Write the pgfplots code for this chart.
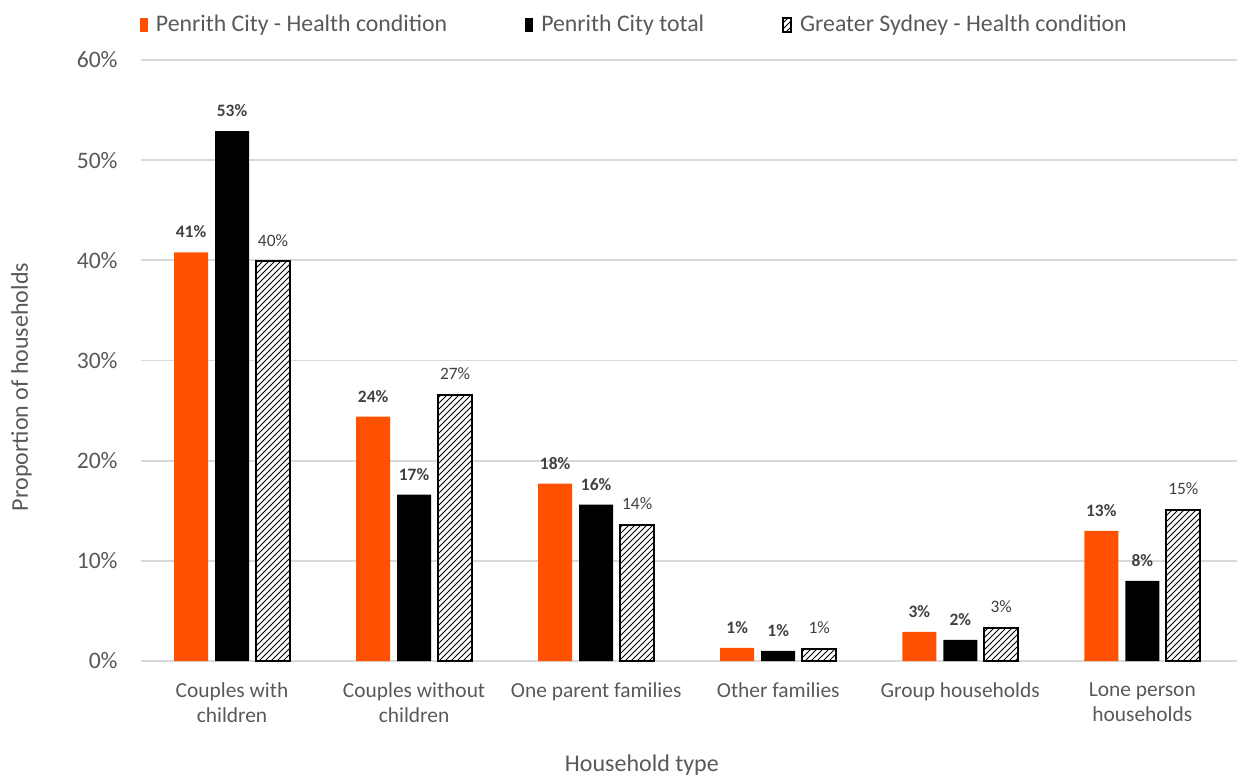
\documentclass[border=0pt]{standalone}
\usepackage{pgfplots}
\pgfplotsset{compat=1.18}
\usepackage{fontspec}
\setmainfont{Carlito}
\usetikzlibrary{patterns}
\definecolor{pOrange}{HTML}{FF5100}
\definecolor{tGray}{HTML}{595959}
\definecolor{lGray}{HTML}{404040}
\definecolor{gGray}{HTML}{D9D9D9}
\begin{document}
\begin{tikzpicture}
\path[use as bounding box] (-70.5pt,-57.5pt) rectangle (548pt,330.5pt);
\begin{axis}[
  at={(0pt,0pt)}, anchor=south west,
  scale only axis, width=548pt, height=300.5pt,
  ymin=0, ymax=60, xmin=-0.5, xmax=5.52,
  ybar=3.5pt, bar width=17pt,
  axis line style={draw=none},
  major tick length=0pt,
  ymajorgrids, grid style={gGray, line width=0.9pt},
  ytick={0,10,...,60},
  yticklabel={\pgfmathprintnumber[assume math mode=true]{\tick}\%},
  yticklabel style={font=\fontsize{11.8}{13}\selectfont, text=tGray, anchor=east, inner sep=0pt, xshift=-11.5pt},
  xtick={0,1,2,3,4,5},
  xticklabels={Couples with\\children, Couples without\\children, One parent families, Other families, Group households, Lone person\\households},
  xticklabel style={font=\fontsize{10.7}{12.5}\selectfont, text=tGray, anchor=north, inner sep=0pt, yshift=-10.5pt, align=center},
  xlabel={Household type},
  xlabel style={font=\fontsize{12}{14}\selectfont, text=tGray, at={(axis description cs:0.457,-0.173)}, anchor=center},
  ylabel={Proportion of households},
  ylabel style={font=\fontsize{12}{14}\selectfont, text=tGray, at={(axis description cs:-0.109,0.456)}, anchor=center},
  nodes near coords={\pgfmathprintnumber[fixed,precision=0,assume math mode=true]{\pgfplotspointmeta}\%},
  nodes near coords style={font=\fontsize{8.7}{10}\selectfont, text=lGray, anchor=south, inner sep=0pt, yshift=7pt},
  legend columns=3,
  legend style={draw=none, fill=none, at={(axis description cs:0.451,1.0583)}, anchor=center,
    font=\fontsize{11.9}{13}\selectfont, text=tGray,
    /tikz/every even column/.append style={column sep=37pt}},
  legend image code/.code={\path[#1] (0pt,-3.7pt) rectangle (3.8pt,3.7pt); \path (6pt,0pt);},
]
\addplot[fill=pOrange, draw=none, nodes near coords style={font=\fontsize{8.7}{10}\selectfont\bfseries}]
  coordinates {(0,40.8) (1,24.4) (2,17.7) (3,1.3) (4,2.9) (5,13.0)};
\addplot[fill=black, draw=none, nodes near coords style={font=\fontsize{8.7}{10}\selectfont\bfseries}]
  coordinates {(0,52.9) (1,16.6) (2,15.6) (3,1.0) (4,2.1) (5,8.0)};
\addplot[fill=white, draw=black, line width=1pt, postaction={pattern=north east lines, pattern color=black}]
  coordinates {(0,39.9) (1,26.6) (2,13.6) (3,1.2) (4,3.3) (5,15.1)};
\legend{Penrith City - Health condition, Penrith City total, Greater Sydney - Health condition}
\end{axis}
\end{tikzpicture}
\end{document}
